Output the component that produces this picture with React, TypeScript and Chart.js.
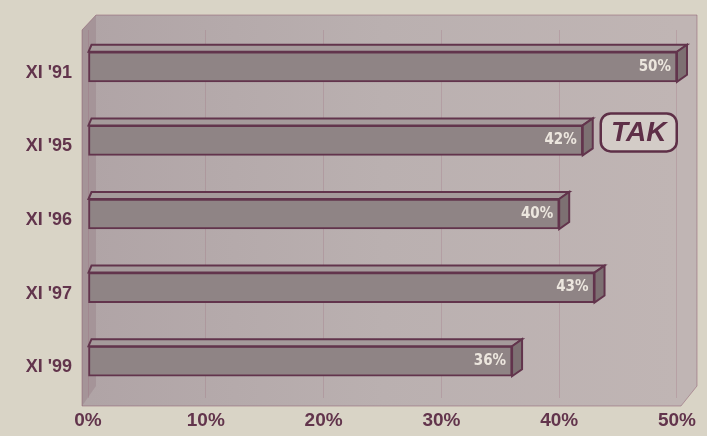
import React, { useEffect, useRef } from "react";
import { Chart, registerables } from "chart.js";

Chart.register(...registerables);

const categories = ["XI '91", "XI '95", "XI '96", "XI '97", "XI '99"];
const values = [50, 42, 40, 43, 36];
const valueLabels = ["50%", "42%", "40%", "43%", "36%"];
const tickValues = [0, 10, 20, 30, 40, 50];
const badgeText = "TAK";
const badgeIndex = 1;

const INK = "#62344c";
const DEPTH_X = 10;
const DEPTH_Y = -7;

const decorPlugin = {
  id: "decor",
  beforeDraw(chart: any) {
    const { ctx, chartArea } = chart;
    const { left, right, top, bottom } = chartArea;
    ctx.save();
    ctx.fillStyle = "#d9d4c6";
    ctx.fillRect(0, 0, chart.width, chart.height);
    const g = ctx.createLinearGradient(left, 0, right, 0);
    g.addColorStop(0, "#b0a4a6");
    g.addColorStop(0.5, "#bab0b0");
    g.addColorStop(1, "#c0b5b4");
    ctx.fillStyle = g;
    ctx.beginPath();
    ctx.moveTo(left - 6, top);
    ctx.lineTo(left + 8, top - 15);
    ctx.lineTo(right + 20, top - 15);
    ctx.lineTo(right + 20, bottom - 12);
    ctx.lineTo(right + 4, bottom + 8);
    ctx.lineTo(left - 6, bottom + 8);
    ctx.closePath();
    ctx.fill();
    ctx.strokeStyle = "rgba(140,90,110,0.5)";
    ctx.lineWidth = 1;
    ctx.stroke();
    ctx.fillStyle = "rgba(130,100,110,0.25)";
    ctx.beginPath();
    ctx.moveTo(left - 6, top);
    ctx.lineTo(left + 8, top - 15);
    ctx.lineTo(left + 8, bottom - 12);
    ctx.lineTo(left - 6, bottom + 8);
    ctx.closePath();
    ctx.fill();
    ctx.restore();
  },
  afterDatasetsDraw(chart: any) {
    const { ctx } = chart;
    const meta = chart.getDatasetMeta(0);
    ctx.save();
    meta.data.forEach((bar: any, i: number) => {
      const h = bar.height;
      const x0 = bar.base;
      const x1 = bar.x;
      const yTop = bar.y - h / 2;
      const yBot = bar.y + h / 2;
      ctx.lineWidth = 2;
      ctx.strokeStyle = INK;
      ctx.fillStyle = "#a59a9b";
      ctx.beginPath();
      ctx.moveTo(x0, yTop);
      ctx.lineTo(x0 + DEPTH_X * 0.3, yTop + DEPTH_Y);
      ctx.lineTo(x1 + DEPTH_X, yTop + DEPTH_Y);
      ctx.lineTo(x1, yTop);
      ctx.closePath();
      ctx.fill();
      ctx.stroke();
      ctx.fillStyle = "#7d7072";
      ctx.beginPath();
      ctx.moveTo(x1, yTop);
      ctx.lineTo(x1 + DEPTH_X, yTop + DEPTH_Y);
      ctx.lineTo(x1 + DEPTH_X, yBot + DEPTH_Y);
      ctx.lineTo(x1, yBot);
      ctx.closePath();
      ctx.fill();
      ctx.stroke();
      ctx.font = "bold 15px 'Liberation Sans Narrow', 'DejaVu Sans Condensed', Arial, sans-serif";
      ctx.fillStyle = "#ece6de";
      ctx.textAlign = "right";
      ctx.textBaseline = "middle";
      ctx.fillText(valueLabels[i], x1 - 6, bar.y);
      if (i === badgeIndex) {
        const bx = x1 + DEPTH_X + 8;
        const bw = 76;
        const bh = 38;
        const by = bar.y - 8 - bh / 2;
        ctx.beginPath();
        ctx.roundRect(bx, by, bw, bh, 10);
        ctx.fillStyle = "#d3ccc7";
        ctx.fill();
        ctx.lineWidth = 2.5;
        ctx.strokeStyle = "#5e2f47";
        ctx.stroke();
        ctx.font = "italic bold 28px 'Liberation Sans', Arial, sans-serif";
        ctx.fillStyle = "#5e2f47";
        ctx.textAlign = "center";
        ctx.fillText(badgeText, bx + bw / 2, by + bh / 2 + 1);
      }
    });
    ctx.restore();
  },
};

export default function App() {
  const ref = useRef<HTMLCanvasElement>(null);
  useEffect(() => {
    if (!ref.current) return;
    const chart = new Chart(ref.current, {
      type: "bar",
      data: {
        labels: categories,
        datasets: [
          {
            data: values,
            backgroundColor: "#8f8485",
            borderColor: INK,
            borderWidth: 2,
            borderSkipped: false,
            barThickness: 30,
          },
        ],
      },
      plugins: [decorPlugin],
      options: {
        indexAxis: "y",
        animation: false,
        responsive: false,
        layout: { padding: { top: 30, right: 27, left: 0, bottom: 0 } },
        plugins: { legend: { display: false }, tooltip: { enabled: false } },
        scales: {
          x: {
            min: 0,
            max: 50,
            afterBuildTicks: (s: any) => {
              s.ticks = tickValues.map((v) => ({ value: v }));
            },
            afterFit: (s: any) => {
              s.height = 38;
            },
            grid: { color: "rgba(150,90,115,0.22)", drawTicks: false, drawOnChartArea: true },
            border: { display: false },
            ticks: {
              padding: 11,
              color: INK,
              font: { family: "'Liberation Sans', Arial, sans-serif", size: 19, weight: "bold" },
              callback: (v: any) => `${v}%`,
            },
          },
          y: {
            afterFit: (s: any) => {
              s.width = 88;
            },
            grid: { display: false },
            border: { display: false },
            ticks: {
              padding: 8,
              labelOffset: 6,
              color: INK,
              font: { family: "'Liberation Sans', Arial, sans-serif", size: 18, weight: "bold" },
            },
          },
        },
      },
    });
    return () => chart.destroy();
  }, []);
  return (
    <div style={{ position: "fixed", left: 0, top: 0, width: 707, height: 436 }}>
      <canvas ref={ref} width={707} height={436} style={{ display: "block" }} />
    </div>
  );
}
